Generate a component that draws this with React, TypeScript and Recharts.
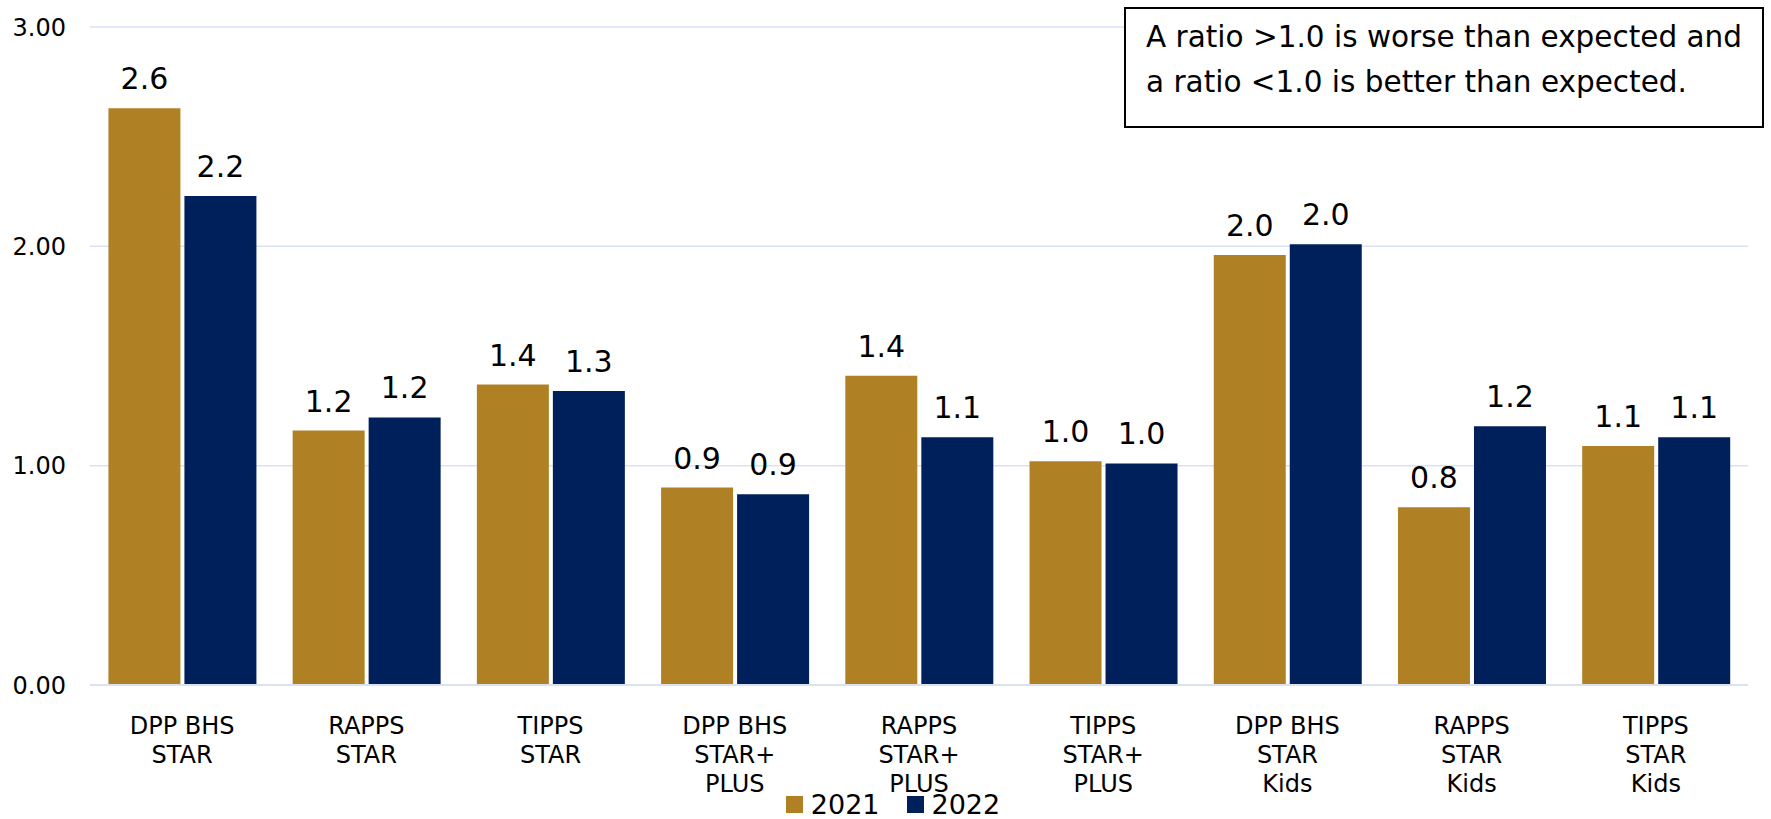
import React from "react";
import { BarChart, Bar, XAxis, YAxis, CartesianGrid, Legend, LabelList } from "recharts";

// Observed/expected ratio by program and year
const categories = [
  "DPP BHS\nSTAR",
  "RAPPS\nSTAR",
  "TIPPS\nSTAR",
  "DPP BHS\nSTAR+\nPLUS",
  "RAPPS\nSTAR+\nPLUS",
  "TIPPS\nSTAR+\nPLUS",
  "DPP BHS\nSTAR\nKids",
  "RAPPS\nSTAR\nKids",
  "TIPPS\nSTAR\nKids",
];
const values2021 = [2.63, 1.16, 1.37, 0.9, 1.41, 1.02, 1.96, 0.81, 1.09];
const values2022 = [2.23, 1.22, 1.34, 0.87, 1.13, 1.01, 2.01, 1.18, 1.13];
const yTicks = [0, 1, 2, 3];
const note = ["A ratio >1.0 is worse than expected and", "a ratio <1.0 is better than expected."];

const GOLD = "#B08025";
const NAVY = "#00205B";
const GRID = "#D9E1F2";
const FONT = "'DejaVu Sans', Verdana, sans-serif";

const data = categories.map((name, i) => ({
  name,
  y2021: values2021[i],
  y2022: values2022[i],
}));

const CategoryTick = ({ x, y, payload }: any) => {
  const lines = String(payload.value).split("\n");
  return (
    <text x={x} y={y + 41} textAnchor="middle" fontSize={24} fill="#000" fontFamily={FONT}>
      {lines.map((l, i) => (
        <tspan key={i} x={x} dy={i === 0 ? 0 : 29}>
          {l}
        </tspan>
      ))}
    </text>
  );
};

const ValueLabel = ({ x, y, width, value }: any) => (
  <text x={x + width / 2} y={y - 19} textAnchor="middle" fontSize={30} fill="#000" fontFamily={FONT}>
    {Number(value).toFixed(1)}
  </text>
);

const LegendContent = ({ payload }: any) => (
  <div style={{ display: "flex", justifyContent: "center", gap: 27, paddingLeft: 15, fontFamily: FONT }}>
    {(payload || []).map((p: any) => (
      <div key={p.value} style={{ display: "flex", alignItems: "center" }}>
        <span style={{ width: 17, height: 17, background: p.color, marginRight: 8, display: "inline-block" }} />
        <span style={{ fontSize: 27, color: "#000", lineHeight: "27px" }}>{p.value}</span>
      </div>
    ))}
  </div>
);

export default function App() {
  return (
    <div style={{ position: "absolute", left: 0, top: 0, width: 1771, height: 819, background: "#fff" }}>
      <BarChart
        width={1771}
        height={819}
        data={data}
        margin={{ top: 27, right: 23, bottom: 34, left: 0 }}
        barCategoryGap="10%"
        barGap={4}
      >
        <CartesianGrid vertical={false} stroke={GRID} strokeWidth={1.5} />
        <XAxis
          dataKey="name"
          interval={0}
          height={100}
          tickLine={false}
          axisLine={{ stroke: GRID, strokeWidth: 2 }}
          tick={<CategoryTick />}
        />
        <YAxis
          width={90}
          domain={[0, 3]}
          ticks={yTicks}
          tickFormatter={(v: number) => v.toFixed(2)}
          axisLine={false}
          tickLine={false}
          tickMargin={18}
          tick={{ fontSize: 24, fill: "#000", fontFamily: FONT }}
        />
        <Legend
          verticalAlign="middle"
          align="center"
          layout="horizontal"
          wrapperStyle={{ top: 791, left: 0, width: 1771 }}
          content={<LegendContent />}
        />
        <Bar dataKey="y2021" name="2021" fill={GOLD} isAnimationActive={false}>
          <LabelList dataKey="y2021" content={<ValueLabel />} />
        </Bar>
        <Bar dataKey="y2022" name="2022" fill={NAVY} isAnimationActive={false}>
          <LabelList dataKey="y2022" content={<ValueLabel />} />
        </Bar>
      </BarChart>
      <div
        style={{
          position: "absolute",
          left: 1124,
          top: 7,
          width: 640,
          height: 121,
          border: "2px solid #000",
          background: "#fff",
          fontFamily: FONT,
          fontSize: 29.5,
          lineHeight: "45px",
          color: "#000",
          paddingLeft: 20,
          paddingTop: 6,
          boxSizing: "border-box",
          whiteSpace: "nowrap",
        }}
      >
        {note.map((l) => (
          <div key={l}>{l}</div>
        ))}
      </div>
    </div>
  );
}
